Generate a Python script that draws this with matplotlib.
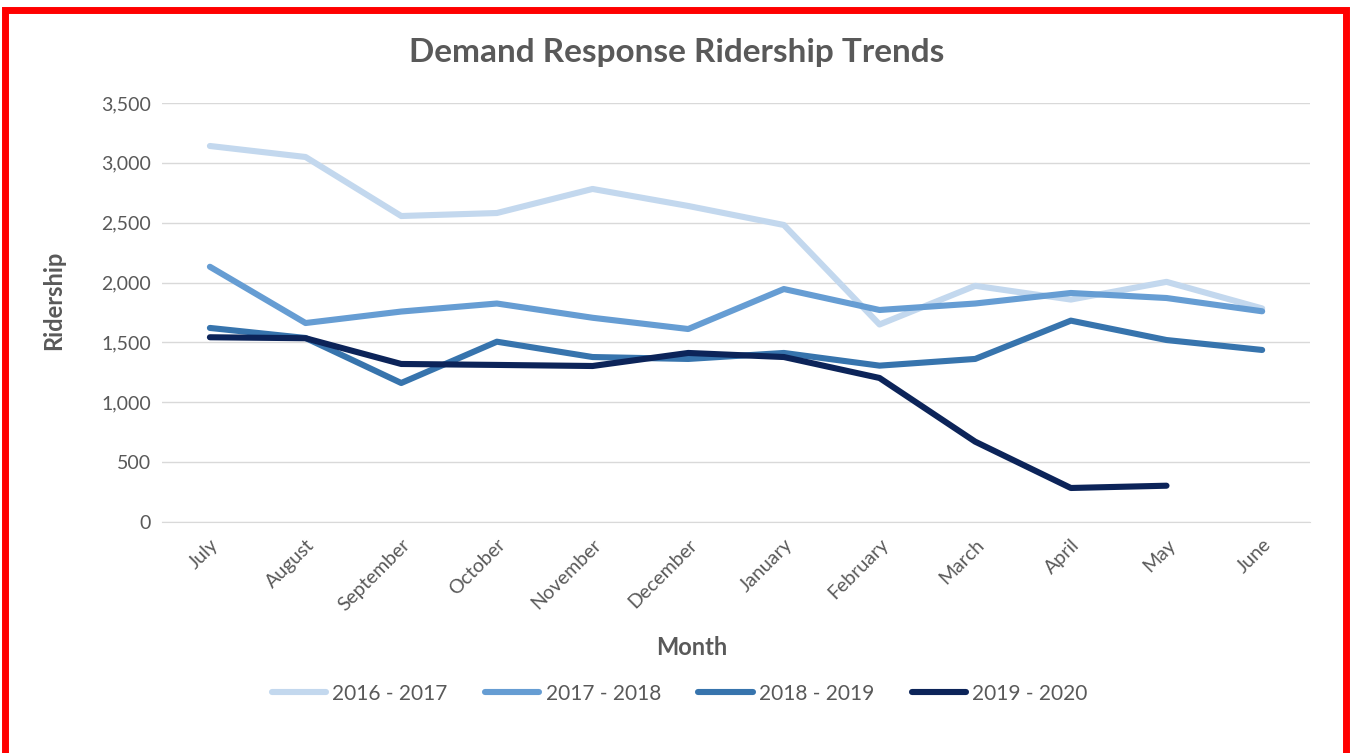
import matplotlib.pyplot as plt
from matplotlib.patches import Rectangle
from matplotlib.ticker import FuncFormatter

months = ["July", "August", "September", "October", "November", "December",
          "January", "February", "March", "April", "May", "June"]
fy_2016_2017 = [3141, 3049, 2556, 2581, 2782, 2640, 2481, 1650, 1973, 1858, 2006, 1784]
fy_2017_2018 = [2132, 1662, 1758, 1825, 1706, 1612, 1946, 1771, 1825, 1913, 1871, 1760]
fy_2018_2019 = [1621, 1537, 1161, 1506, 1378, 1362, 1412, 1306, 1362, 1682, 1520, 1437]
fy_2019_2020 = [1543, 1535, 1320, 1312, 1303, 1412, 1378, 1203, 671, 284, 303]

series = {
    "2016 - 2017": (fy_2016_2017, "#c3d8ee"),
    "2017 - 2018": (fy_2017_2018, "#669dd3"),
    "2018 - 2019": (fy_2018_2019, "#3774ad"),
    "2019 - 2020": (fy_2019_2020, "#0c2459"),
}

plt.rcParams['font.family'] = ['Lato', 'DejaVu Sans']
grey = "#595959"

fig = plt.figure(figsize=(13.54, 7.53), dpi=100)
ax = fig.add_axes([0.1197, 0.3068, 0.8478, 0.5564])

for name, (vals, col) in series.items():
    ax.plot(range(len(vals)), vals, color=col, lw=4.4, label=name,
            solid_capstyle='round', solid_joinstyle='round')

ax.set_xlim(-0.5, len(months) - 0.5)
ax.set_ylim(0, 3500)
ax.set_yticks(range(0, 3501, 500))
ax.yaxis.set_major_formatter(FuncFormatter(lambda v, p: f"{int(v):,}"))
ax.set_xticks(range(len(months)))
ax.set_xticklabels(months, rotation=45, ha='right', rotation_mode='anchor')
ax.grid(axis='y', color='#d9d9d9', lw=1)
ax.set_axisbelow(True)
for s in ax.spines.values():
    s.set_visible(False)
ax.spines['bottom'].set_visible(True)
ax.spines['bottom'].set_color('#d9d9d9')
ax.tick_params(axis='both', length=0, labelsize=14, labelcolor=grey)
ax.tick_params(axis='y', pad=8)
ax.tick_params(axis='x', pad=10)

# axis titles sit a bit off the plot centre in the original
ax.set_xlabel("Month", fontsize=17, fontweight='bold', color=grey, labelpad=16)
ax.xaxis.label.set_x(0.461)
ax.set_ylabel("Ridership", fontsize=17, fontweight='bold', color=grey, labelpad=26)
ax.yaxis.label.set_y(0.53)
fig.text(0.5, 0.93, "Demand Response Ridership Trends", ha='center', va='center',
         fontsize=24, fontweight='bold', color=grey)

fig.legend(loc='center', bbox_to_anchor=(0.502, 0.079), ncol=4, frameon=False,
           fontsize=15, labelcolor=grey, handlelength=2.6, handletextpad=0.3,
           columnspacing=1.8)

fig.patches.append(Rectangle((0.004, -0.05), 0.99, 1.037, transform=fig.transFigure,
                             fill=False, edgecolor='#ff0000', lw=5))

fig.savefig("out.png", dpi=100)
